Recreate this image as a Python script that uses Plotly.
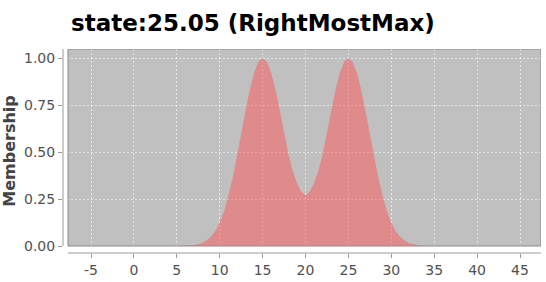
import plotly.graph_objects as go

# Membership curve
xs = [5.0, 5.5, 6.0, 6.5, 7.0, 7.5, 8.0, 8.5, 9.0, 9.5, 10.0, 10.5, 11.0, 11.5, 12.0, 12.5,
      13.0, 13.5, 14.0, 14.5, 15.0, 15.5, 16.0, 16.5, 17.0, 17.5, 18.0, 18.5, 19.0, 19.5,
      20.0, 20.5, 21.0, 21.5, 22.0, 22.5, 23.0, 23.5, 24.0, 24.5, 25.0, 25.5, 26.0, 26.5,
      27.0, 27.5, 28.0, 28.5, 29.0, 29.5, 30.0, 30.5, 31.0, 31.5, 32.0, 32.5, 33.0, 33.5,
      34.0, 34.5, 35.0]
membership = [0.000, 0.001, 0.001, 0.002, 0.005, 0.009, 0.017, 0.030, 0.050, 0.080, 0.125,
              0.185, 0.264, 0.360, 0.472, 0.594, 0.717, 0.829, 0.920, 0.979, 1.000, 0.980,
              0.921, 0.831, 0.722, 0.603, 0.490, 0.400, 0.335, 0.290, 0.270, 0.290, 0.335,
              0.400, 0.490, 0.603, 0.722, 0.831, 0.921, 0.980, 1.000, 0.979, 0.920, 0.829,
              0.717, 0.594, 0.472, 0.360, 0.264, 0.185, 0.125, 0.080, 0.050, 0.030, 0.017,
              0.009, 0.005, 0.002, 0.001, 0.001, 0.000]

x_ticks = [-5, 0, 5, 10, 15, 20, 25, 30, 35, 40, 45]
y_ticks = [0.0, 0.25, 0.5, 0.75, 1.0]
title_text = "state:25.05 (RightMostMax)"
y_label = "Membership"

X0, X1 = -8.263, 47.448      # axis range (includes offset gutter)
BX0 = -7.681                 # plot box left edge
Y0, Y1 = -0.0372, 1.0479

fig = go.Figure()
fig.add_trace(go.Scatter(
    x=xs, y=membership, mode="lines", fill="tozeroy",
    line=dict(width=0, color="rgba(255,85,85,0.5)"),
    fillcolor="rgba(255,85,85,0.5)", hoverinfo="skip", showlegend=False))

shapes = [
    dict(type="rect", xref="x", yref="y", x0=BX0, x1=X1, y0=0, y1=Y1,
         fillcolor="#c0c0c0", line=dict(width=0), layer="below"),
    dict(type="rect", xref="x", yref="y", x0=BX0, x1=X1, y0=0, y1=Y1,
         fillcolor="rgba(0,0,0,0)", line=dict(width=1, color="#8a8a8a"), layer="above"),
    # offset axis lines
    dict(type="line", xref="paper", yref="y", x0=0, x1=0, y0=0, y1=Y1,
         line=dict(width=1, color="#9a9a9a")),
    dict(type="line", xref="x", yref="paper", x0=BX0, x1=X1, y0=0, y1=0,
         line=dict(width=1, color="#9a9a9a")),
]

font = "DejaVu Sans, Verdana, sans-serif"
grid = dict(showgrid=True, gridcolor="rgba(255,255,255,0.6)", griddash="2px,2px", gridwidth=1)
fig.update_layout(
    width=546, height=282,
    margin=dict(l=63, r=5, t=49, b=29),
    paper_bgcolor="white", plot_bgcolor="white",
    shapes=shapes,
    title=dict(text="<b>" + title_text + "</b>", xref="container", yref="container",
               x=71 / 546, xanchor="left", y=1 - 23 / 282, yanchor="middle",
               font=dict(family=font, size=23, color="#000000")),
    xaxis=dict(range=[X0, X1], tickvals=x_ticks, ticktext=[str(v) for v in x_ticks],
               zeroline=False, showline=False, ticks="outside", ticklen=4,
               tickcolor="#9a9a9a", tickfont=dict(family=font, size=14, color="#505050"),
               **grid),
    yaxis=dict(range=[Y0, Y1], tickvals=y_ticks, ticktext=["%.2f" % v for v in y_ticks],
               zeroline=False, showline=False, ticks="outside", ticklen=4,
               tickcolor="#9a9a9a", tickfont=dict(family=font, size=14, color="#505050"),
               title=dict(text="<b>" + y_label + "</b>", standoff=6,
                          font=dict(family=font, size=16, color="#444444")),
               **grid),
)

fig.write_html("out.html")
